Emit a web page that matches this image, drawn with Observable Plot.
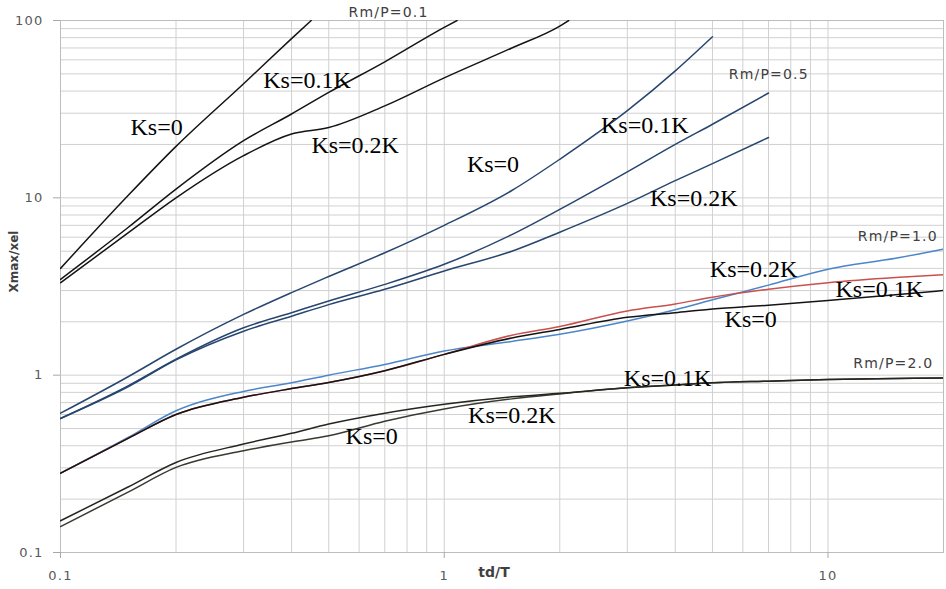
<!DOCTYPE html>
<html><head><meta charset="utf-8">
<script src="https://cdn.jsdelivr.net/npm/d3@7"></script>
<script src="https://cdn.jsdelivr.net/npm/@observablehq/plot@0.6"></script>
<style>
html,body{margin:0;padding:0;background:#fff;}
#chart{width:946px;height:589px;}
svg g[font-family="DejaVu Sans"] text{letter-spacing:1.2px;}
</style>
</head><body><div id="chart"></div>
<script>
// ---- Rm/P = 0.1 (black) ----
const xRm01Ks0  = [0.1, 0.15, 0.2, 0.3, 0.4, 0.45];
const yRm01Ks0  = [4.0, 10.3, 19.5, 44, 79, 100];
const xRm01Ks01 = [0.1, 0.15, 0.2, 0.3, 0.4, 0.5, 0.7, 1.0, 1.08];
const yRm01Ks01 = [3.47, 6.8, 11.2, 21, 29.7, 39.3, 58.5, 91.5, 100];
const xRm01Ks02 = [0.1, 0.15, 0.2, 0.3, 0.4, 0.5, 0.7, 1.0, 1.5, 2.0, 2.11];
const yRm01Ks02 = [3.32, 6.34, 10.0, 17.3, 22.9, 24.9, 33, 47.5, 70, 93, 100];

// ---- Rm/P = 0.5 (dark blue) ----
const xRm05Top = [0.1, 0.15, 0.2, 0.3, 0.4, 0.5, 0.7, 1, 1.5, 2, 3, 4, 5];
const yRm05Top = [0.61, 0.98, 1.40, 2.20, 2.92, 3.6, 4.9, 7.0, 11.0, 16.5, 31, 52, 81];
const xRm05Mid = [0.1, 0.15, 0.2, 0.3, 0.4, 0.5, 0.7, 1, 1.5, 2, 3, 4, 5, 7];
const yRm05Mid = [0.57, 0.87, 1.23, 1.85, 2.25, 2.62, 3.25, 4.22, 6.2, 8.6, 14, 20, 26, 39];
const yRm05Low = [0.57, 0.86, 1.22, 1.77, 2.15, 2.50, 3.05, 3.87, 5.0, 6.4, 9.3, 12.5, 15.6, 21.9];

// ---- Rm/P = 1.0 ----
const xRm10 = [0.1, 0.15, 0.2, 0.3, 0.4, 0.5, 0.7, 1, 1.5, 2, 3, 4, 5, 7, 10, 15, 20];
const yRm10Ks0  = [0.28, 0.44, 0.60, 0.75, 0.84, 0.91, 1.06, 1.31, 1.62, 1.81, 2.12, 2.25, 2.36, 2.48, 2.64, 2.84, 3.0];
const yRm10Ks01 = [0.28, 0.44, 0.60, 0.75, 0.84, 0.91, 1.06, 1.31, 1.68, 1.88, 2.30, 2.52, 2.75, 3.05, 3.32, 3.55, 3.68];
const yRm10Ks02 = [0.28, 0.445, 0.63, 0.81, 0.905, 1.0, 1.15, 1.37, 1.55, 1.70, 2.02, 2.34, 2.66, 3.22, 3.96, 4.56, 5.13];

// ---- Rm/P = 2.0 ----
const xRm20 = [0.1, 0.15, 0.2, 0.3, 0.4, 0.5, 0.7, 1, 1.5, 2, 3, 4, 5, 7, 10, 15, 20];
const yRm20Up  = [0.151, 0.234, 0.322, 0.409, 0.47, 0.53, 0.61, 0.685, 0.755, 0.79, 0.848, 0.88, 0.905, 0.925, 0.945, 0.958, 0.965];
const yRm20Low = [0.140, 0.219, 0.302, 0.375, 0.42, 0.455, 0.55, 0.645, 0.735, 0.784, 0.848, 0.88, 0.905, 0.925, 0.945, 0.958, 0.965];

// ---- annotations (data coordinates) ----
const ksLabels = [
  {t:"Ks=0", x:0.178, y:24.9}, {t:"Ks=0.1K", x:0.439, y:45.8}, {t:"Ks=0.2K", x:0.586, y:19.7},
  {t:"Ks=0", x:1.34, y:15.4}, {t:"Ks=0.1K", x:3.33, y:25.5}, {t:"Ks=0.2K", x:4.47, y:9.9},
  {t:"Ks=0.2K", x:6.40, y:3.97}, {t:"Ks=0.1K", x:13.6, y:3.05}, {t:"Ks=0", x:6.29, y:2.07},
  {t:"Ks=0.1K", x:3.82, y:0.965}, {t:"Ks=0.2K", x:1.50, y:0.595}, {t:"Ks=0", x:0.647, y:0.450}
];
const rmLabels = [
  {t:"Rm/P=0.1", x:0.716, y:110.3}, {t:"Rm/P=0.5", x:7.01, y:49.5},
  {t:"Rm/P=1.0", x:15.2, y:6.02}, {t:"Rm/P=2.0", x:14.8, y:1.16}
];
const xTicks = [0.1, 1, 10];
const yTicks = [0.1, 1, 10, 100];

const series = [
  {xs:xRm01Ks0,  ys:yRm01Ks0,  c:"#141414"},
  {xs:xRm01Ks01, ys:yRm01Ks01, c:"#141414"},
  {xs:xRm01Ks02, ys:yRm01Ks02, c:"#141414"},
  {xs:xRm05Top,  ys:yRm05Top,  c:"#27466f"},
  {xs:xRm05Mid,  ys:yRm05Mid,  c:"#27466f"},
  {xs:xRm05Mid,  ys:yRm05Low,  c:"#27466f"},
  {xs:xRm10,     ys:yRm10Ks02, c:"#4a86c8"},
  {xs:xRm10,     ys:yRm10Ks01, c:"#c9504d"},
  {xs:xRm10,     ys:yRm10Ks0,  c:"#141414"},
  {xs:xRm20,     ys:yRm20Low,  c:"#3a3a30"},
  {xs:xRm20,     ys:yRm20Up,   c:"#262620"}
];

const xGrid = [];
for (const d of [0.1, 1]) for (let k = 1; k <= 9; k++) xGrid.push(+(d*k).toPrecision(3));
xGrid.push(10, 20);
const yGrid = [];
for (const d of [0.1, 1, 10]) for (let k = 1; k <= 9; k++) yGrid.push(+(d*k).toPrecision(3));
yGrid.push(100);

const lineMarks = series.map(s => Plot.line(s.xs.map((x, i) => ({x, y: s.ys[i]})), {
  x: "x", y: "y", stroke: s.c, strokeWidth: 1.5, curve: "monotone-x", clip: true
}));

const chart = Plot.plot({
  width: 946, height: 589,
  marginLeft: 60, marginRight: 3, marginTop: 20, marginBottom: 37,
  style: {background: "#fff", fontFamily: "DejaVu Sans", fontSize: "13px"},
  x: {type: "log", domain: [0.1, 20]},
  y: {type: "log", domain: [0.1, 100]},
  marks: [
    Plot.ruleX(xGrid, {stroke: "#d0d0d0", strokeWidth: 1}),
    Plot.ruleY(yGrid, {stroke: "#d0d0d0", strokeWidth: 1}),
    Plot.frame({stroke: "#bdbdbd"}),
    Plot.axisX(xTicks, {tickSize: 6, tickPadding: 12, tickFormat: d => String(d), stroke: "#a8a8a8", fill: "#595959", fontFamily: "DejaVu Sans", fontSize: 13, label: null}),
    Plot.axisY(yTicks, {tickSize: 7, tickPadding: 10, tickFormat: d => String(d), stroke: "#a8a8a8", fill: "#595959", fontFamily: "DejaVu Sans", fontSize: 13, label: null}),
    ...lineMarks,
    Plot.text(ksLabels, {x: "x", y: "y", text: "t", fontFamily: "Liberation Serif", fontSize: 24, fill: "#000"}),
    Plot.text(rmLabels, {x: "x", y: "y", text: "t", fontFamily: "DejaVu Sans", fontSize: 14, fill: "#404040", clip: false}),
    Plot.text(["td/T"], {frameAnchor: "bottom", dx: -8, dy: 24, fontFamily: "DejaVu Sans, sans-serif", fontWeight: "bold", fontSize: 14, fill: "#404040"}),
    Plot.text(["Xmax/xel"], {frameAnchor: "left", dx: -46, dy: 6, rotate: -90, fontFamily: "DejaVu Sans, sans-serif", fontWeight: "bold", fontSize: 12, fill: "#404040"})
  ]
});
document.getElementById("chart").appendChild(chart);
</script>
</body></html>
